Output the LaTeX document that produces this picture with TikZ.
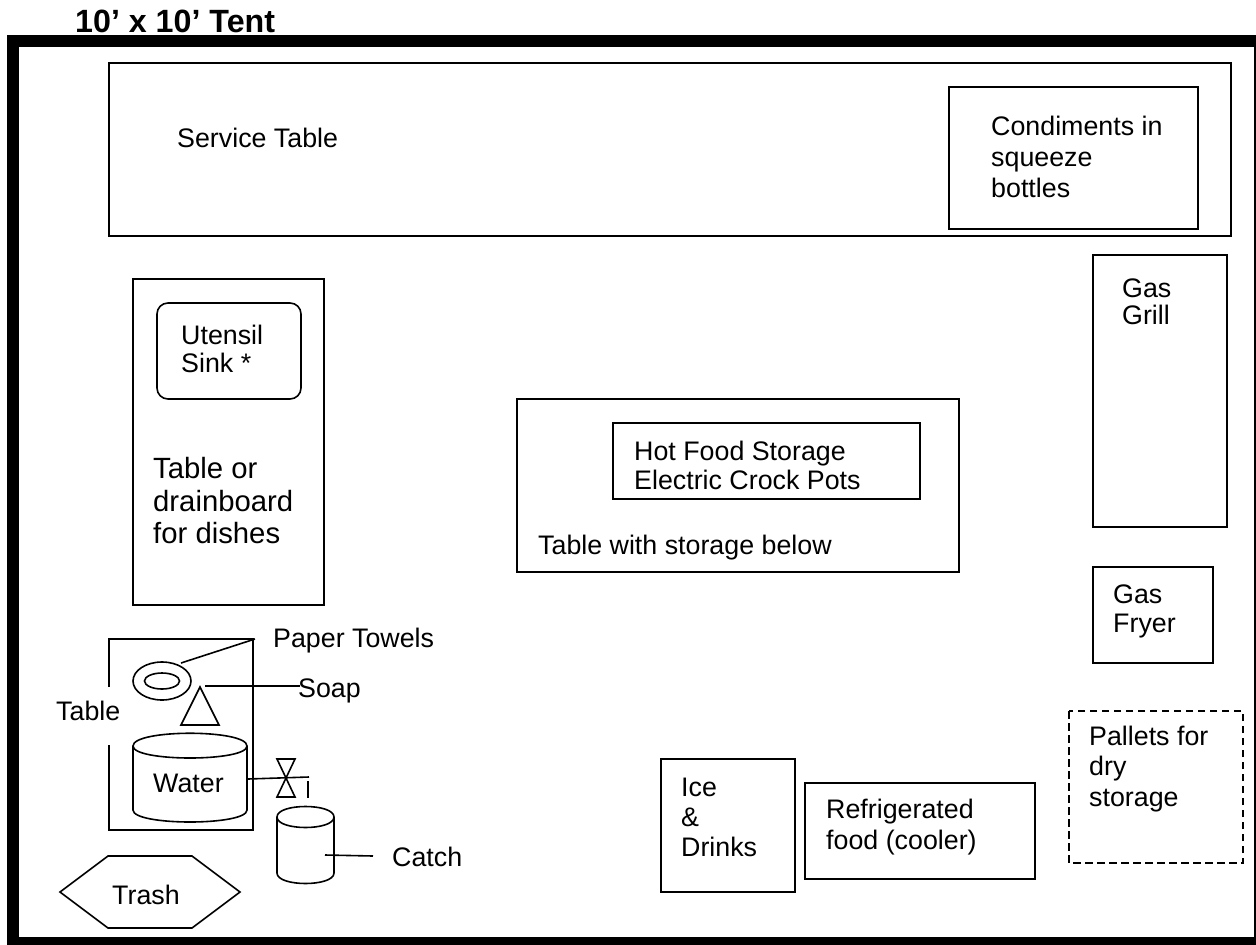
\documentclass[tikz,border=0pt]{standalone}
\usepackage{fontspec}
\setmainfont{Liberation Sans}
\newcommand{\bodyfont}[1]{\fontsize{26.8}{#1}\selectfont}
\begin{document}
\begin{tikzpicture}[x=1pt,y=-1pt,
  shp/.style={draw=black,line width=1.6pt,fill=none},
  lbl/.style={inner sep=0pt,anchor=west,align=left,font=\bodyfont{30}},
  big/.style={lbl,font=\fontsize{29.3}{32.5}\selectfont},
  ln/.style={draw=black,line width=1.6pt}]
\useasboundingbox (0,0) rectangle (1256,945);
\fill[white] (0,0) rectangle (1256,945);
\draw[line width=12pt,draw=black] (13,41) rectangle (1260,943);
\node[inner sep=0pt,anchor=west,font=\bfseries\fontsize{32.2}{34}\selectfont] (title) at (75,21) {10’ x 10’ Tent};
% service table
\draw[shp] (109,63) rectangle (1231,236);
\node[lbl] (svct) at (177,138) {Service Table};
\draw[shp] (949,87) rectangle (1198,229);
\node[lbl,font=\bodyfont{31}] (cond) at (991,157) {Condiments in\\squeeze\\bottles};
% sink table
\draw[shp] (133,279) rectangle (324,605);
\draw[shp,rounded corners=11pt] (157,303) rectangle (301,399);
\node[lbl,font=\bodyfont{28}] (sink) at (181,349) {Utensil\\Sink *};
\node[big] (drain) at (153,501) {Table or\\drainboard\\for dishes};
% middle
\draw[shp] (517,399) rectangle (959,572);
\draw[shp] (613,423) rectangle (920,499);
\node[lbl,font=\bodyfont{29}] (hot) at (634,465) {Hot Food Storage\\Electric Crock Pots};
\node[lbl] (tws) at (538,548) {Table with storage below};
% right
\draw[shp] (1093,255) rectangle (1227,527);
\node[lbl,font=\bodyfont{27}] (grill) at (1122,302) {Gas\\Grill};
\draw[shp] (1093,567) rectangle (1213,663);
\node[lbl,font=\bodyfont{29}] (fryer) at (1113,611) {Gas\\Fryer};
\draw[shp,dash pattern=on 7.5pt off 4.5pt] (1069,711) rectangle (1243,863);
\node[lbl,font=\bodyfont{30.5}] (pall) at (1089,769) {Pallets for\\dry\\storage};
\draw[shp] (661,759) rectangle (795,892);
\node[lbl] (ice) at (681,817) {Ice\\\&\\Drinks};
\draw[shp] (805,783) rectangle (1035,879);
\node[lbl,font=\bodyfont{31}] (refr) at (826,827) {Refrigerated\\food (cooler)};
% hand wash
\draw[ln] (109,687) -- (109,639) -- (253,639) -- (253,830) -- (109,830) -- (109,745);
\node[lbl] (table) at (56,711) {Table};
\draw[shp] (162,681) ellipse (29 and 19);
\draw[shp] (162,681) ellipse (17.5 and 8);
\coordinate (ptend) at (255,639);
\draw[ln] (181,663) -- (ptend);
\node[lbl] (pt) at (273,641) {Paper Towels};
\draw[shp] (200,687) -- (219,725) -- (181,725) -- cycle;
\coordinate (soapa) at (205,686);
\draw[ln] (soapa) -- (300,686);
\node[lbl] (soap) at (298,691) {Soap};
% water
\draw[shp] (133,746) .. controls (133,729) and (247,729) .. (247,746) -- (247,810) .. controls (247,826) and (133,826) .. (133,810) -- cycle;
\draw[shp] (133,746) .. controls (133,762) and (247,762) .. (247,746);
\node[lbl] (water) at (153,783) {Water};
\draw[ln] (248,779) -- (309,777);
\draw[shp] (277,759) -- (295,759) -- (277,797) -- (295,797) -- cycle;
\draw[ln] (308,781) -- (308,798);
% catch
\draw[shp] (277,817) .. controls (277,803) and (334,803) .. (334,817) -- (334,873) .. controls (334,887) and (277,887) .. (277,873) -- cycle;
\draw[shp] (277,817) .. controls (277,831) and (334,831) .. (334,817);
\draw[ln] (325,855) -- (373,856);
\node[lbl] (catch) at (392,857) {Catch};
% trash
\draw[shp] (60,892) -- (108,856) -- (192,856) -- (240,892) -- (192,928) -- (108,928) -- cycle;
\node[lbl] (trash) at (112,895) {Trash};
\end{tikzpicture}
\end{document}
